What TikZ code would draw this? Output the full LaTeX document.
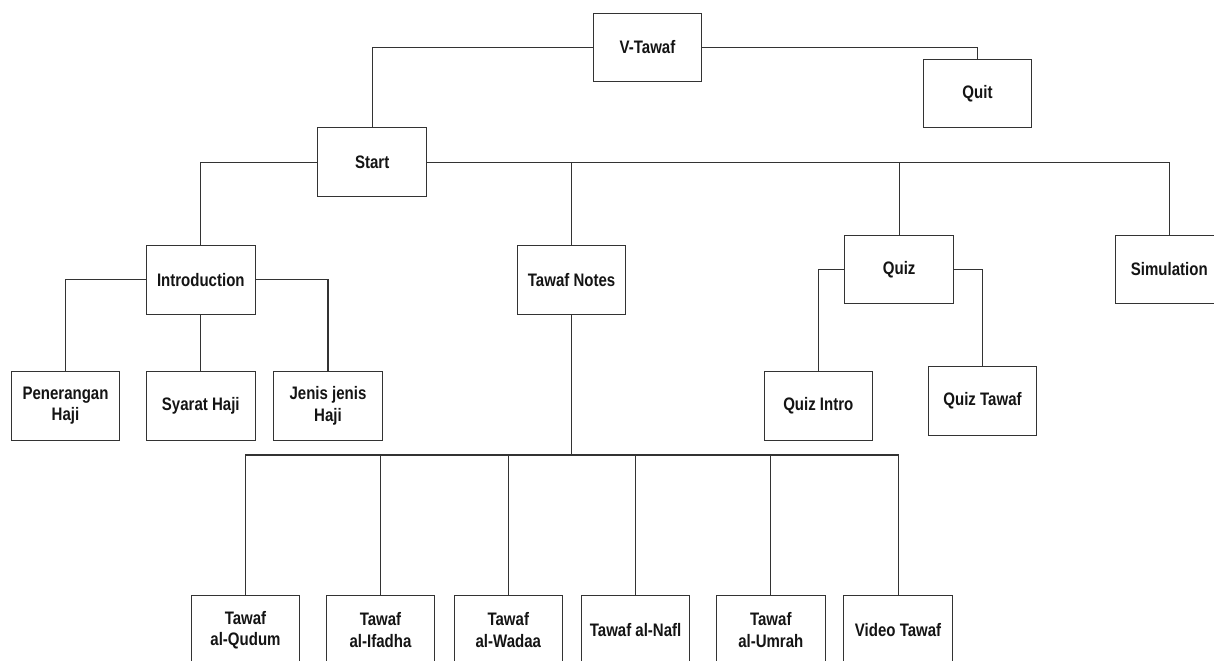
\documentclass[tikz,border=0pt]{standalone}
\usepackage{fontspec}
\newfontfamily\labfont{Liberation Sans}[FakeStretch=0.83]
\begin{document}
\begin{tikzpicture}[x=0.02cm,y=-0.02cm,
  box/.style={draw=black!80, line width=0.6pt, fill=white, minimum width=2.17cm, minimum height=1.37cm,
    inner sep=1pt, align=center, text=black!92, font=\labfont\bfseries\fontsize{10.3}{12}\selectfont},
  link/.style={draw=black!80, line width=0.6pt}]
\useasboundingbox (0,0) rectangle (1214,660);
\clip (0,0) rectangle (1214,660);
% nodes
\node[box] (vtawaf) at (647.5,47.5) {V-Tawaf};
\node[box] (quit) at (977.5,93.3) {Quit};
\node[box] (start) at (372.2,162.2) {Start};
\node[box] (intro) at (200.8,279.8) {Introduction};
\node[box] (notes) at (571.6,280) {Tawaf Notes};
\node[box] (quiz) at (899.2,269.5) {Quiz};
\node[box] (sim) at (1169.3,269.5) {Simulation};
\node[box] (pen) at (65.5,405.8) {Penerangan\\Haji};
\node[box] (syarat) at (200.8,405.8) {Syarat Haji};
\node[box] (jenis) at (328,405.8) {Jenis jenis\\Haji};
\node[box] (qintro) at (818.3,405.8) {Quiz Intro};
\node[box] (qtawaf) at (982.5,401) {Quiz Tawaf};
\node[box] (qudum) at (245.5,630) {Tawaf\\al-Qudum};
\node[box] (ifadha) at (380.5,630) {Tawaf\\al-Ifadha};
\node[box] (wadaa) at (508.3,630) {Tawaf\\al-Wadaa};
\node[box] (nafl) at (635.6,630) {Tawaf al-Nafl};
\node[box] (umrah) at (770.8,630) {Tawaf\\al-Umrah};
\node[box] (video) at (898.1,630) {Video Tawaf};
\coordinate (bus) at (571.6,455);
% connectors
\draw[link] (vtawaf.west) -| (start.north);
\draw[link] (vtawaf.east) -| (quit.north);
\draw[link] (start.west) -| (intro.north);
\draw[link] (start.east) -| (sim.north);
\draw[link] (start.east) -| (notes.north);
\draw[link] (start.east) -| (quiz.north);
\draw[link] (intro.west) -| (pen.north);
\draw[link] (intro.south) -- (syarat.north);
\draw[link] (intro.east) -| (jenis.north);
\draw[link] (quiz.west) -| (qintro.north);
\draw[link] (quiz.east) -| (qtawaf.north);
\draw[link] (notes.south) -- (bus);
\draw[link] (bus) -| (qudum.north);
\draw[link] (bus) -| (ifadha.north);
\draw[link] (bus) -| (wadaa.north);
\draw[link] (bus) -| (nafl.north);
\draw[link] (bus) -| (umrah.north);
\draw[link] (bus) -| (video.north);
\end{tikzpicture}
\end{document}
